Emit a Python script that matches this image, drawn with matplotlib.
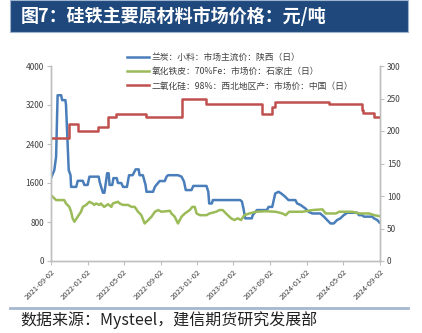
import matplotlib
matplotlib.use("Agg")
import matplotlib.pyplot as plt
import matplotlib.dates as mdates
import pandas as pd

plt.rcParams['font.family'] = ['Noto Sans CJK SC', 'DejaVu Sans']

title = "图7：硅铁主要原材料市场价格：元/吨"
source = "数据来源：Mysteel，建信期货研究发展部"

# 兰炭：小料：市场主流价：陕西（日）, 元/吨
semicoke_dates = [
    "2021-09-02", "2021-09-13", "2021-09-19", "2021-09-24", "2021-10-06", "2021-10-09",
    "2021-10-20", "2021-10-22", "2021-10-31", "2021-11-06", "2021-11-08", "2021-11-25",
    "2021-11-30", "2021-12-17", "2021-12-22", "2022-01-02", "2022-01-08", "2022-02-08",
    "2022-02-11", "2022-02-22", "2022-02-27", "2022-03-08", "2022-03-13", "2022-03-16",
    "2022-03-25", "2022-03-29", "2022-04-09", "2022-04-13", "2022-04-24", "2022-04-30",
    "2022-05-13", "2022-05-20", "2022-06-01", "2022-06-11", "2022-06-21", "2022-06-24",
    "2022-07-05", "2022-07-14", "2022-07-17", "2022-08-08", "2022-08-14", "2022-08-19",
    "2022-08-30", "2022-09-16", "2022-09-22", "2022-09-27", "2022-10-30", "2022-11-11",
    "2022-11-19", "2022-11-25", "2022-12-14", "2022-12-20", "2023-02-02", "2023-02-08",
    "2023-02-11", "2023-02-20", "2023-02-23", "2023-05-25", "2023-05-31", "2023-06-05",
    "2023-06-11", "2023-07-03", "2023-07-06", "2023-07-20", "2023-08-22", "2023-08-28",
    "2023-09-09", "2023-09-19", "2023-09-30", "2023-10-09", "2023-10-22", "2023-11-02",
    "2023-11-25", "2023-12-01", "2023-12-12", "2023-12-28", "2024-01-08", "2024-01-20",
    "2024-02-16", "2024-02-28", "2024-03-21", "2024-04-01", "2024-04-12", "2024-04-23",
    "2024-05-04", "2024-05-16", "2024-06-18", "2024-06-24", "2024-07-05", "2024-07-10",
    "2024-08-07", "2024-08-13", "2024-08-24", "2024-08-31",
]
semicoke_price = [
    1700, 1865, 2140, 3400, 3400, 3300,
    3300, 3200, 1865, 1760, 1520, 1520,
    1645, 1645, 1560, 1560, 1730, 1730,
    1625, 1400, 1400, 1800, 1800, 1560,
    1560, 1700, 1700, 1600, 1600, 1520,
    1520, 1760, 1760, 1880, 1880, 1760,
    1760, 1560, 1420, 1420, 1520, 1560,
    1640, 1640, 1730, 1760, 1760, 1730,
    1630, 1455, 1455, 1540, 1540, 1420,
    1180, 1180, 1250, 1250, 1220, 1080,
    875, 875, 940, 1045, 1045, 1110,
    1110, 1385, 1420, 1385, 1320, 1250,
    1250, 1180, 1150, 1080, 1010, 975,
    975, 910, 770, 770, 840, 875,
    940, 990, 990, 940, 940, 910,
    910, 875, 840, 790,
]

# 氧化铁皮：70%Fe：市场价：石家庄（日）, 元/吨
scale_dates = [
    "2021-09-02", "2021-09-13", "2021-09-19", "2021-10-16", "2021-10-22", "2021-11-02",
    "2021-11-08", "2021-11-13", "2021-11-19", "2021-11-30", "2021-12-11", "2021-12-17",
    "2021-12-28", "2022-01-02", "2022-01-08", "2022-01-19", "2022-01-24", "2022-01-30",
    "2022-02-10", "2022-02-15", "2022-02-26", "2022-03-11", "2022-03-22", "2022-03-27",
    "2022-04-13", "2022-04-19", "2022-04-30", "2022-05-17", "2022-05-28", "2022-06-08",
    "2022-06-19", "2022-06-30", "2022-07-11", "2022-07-23", "2022-08-03", "2022-08-14",
    "2022-08-25", "2022-09-05", "2022-10-03", "2022-10-08", "2022-10-19", "2022-10-30",
    "2022-11-11", "2022-11-22", "2022-12-08", "2022-12-17", "2022-12-25", "2022-12-31",
    "2023-01-11", "2023-02-02", "2023-02-12", "2023-03-06", "2023-03-17", "2023-03-28",
    "2023-04-08", "2023-04-25", "2023-05-06", "2023-05-17", "2023-05-28", "2023-06-08",
    "2023-06-25", "2023-07-17", "2023-08-19", "2023-09-21", "2023-10-13", "2023-10-24",
    "2023-11-04", "2023-12-19", "2024-01-21", "2024-02-23", "2024-03-05", "2024-04-08",
    "2024-04-19", "2024-06-02", "2024-06-25", "2024-07-28", "2024-08-14", "2024-08-31",
]
scale_price = [
    1350, 1285, 1250, 1250, 1180, 1110,
    1010, 875, 805, 910, 1010, 1110,
    1150, 1180, 1215, 1180, 1150, 1180,
    1150, 1180, 1110, 1165, 1110, 1180,
    1215, 1180, 1150, 1150, 1110, 1110,
    1010, 940, 770, 840, 910, 1010,
    1045, 1010, 1030, 975, 910, 770,
    910, 975, 1045, 1110, 1110, 975,
    940, 940, 975, 1010, 1045, 1045,
    975, 875, 840, 875, 840, 940,
    975, 1010, 1020, 1010, 975, 940,
    1010, 1010, 1045, 1060, 975, 975,
    1010, 1010, 975, 975, 940, 920,
]

# 二氧化硅：98%：西北地区产：市场价：中国（日）, 元/吨 (right axis)
silica_dates = [
    "2021-09-02", "2021-11-02", "2021-11-30", "2022-02-05", "2022-03-10", "2022-04-07",
    "2022-07-17", "2022-11-11", "2023-02-02", "2023-08-05", "2023-09-08", "2023-09-19",
    "2024-03-15", "2024-07-03", "2024-07-08", "2024-08-13", "2024-08-31",
]
silica_price = [
    190, 211, 200, 206, 221, 226,
    221, 250, 241.5, 225.5, 237, 245,
    241, 232, 227, 221, 221,
]

legend_labels = [
    "兰炭：小料：市场主流价：陕西（日）",
    "氧化铁皮：70%Fe：市场价：石家庄（日）",
    "二氧化硅：98%：西北地区产：市场价：中国（日）",
]
x_ticks = ["2021-09-02", "2022-01-02", "2022-05-02", "2022-09-02", "2023-01-02",
           "2023-05-02", "2023-09-02", "2024-01-02", "2024-05-02", "2024-09-02"]
left_ticks = [0, 800, 1600, 2400, 3200, 4000]
right_ticks = [0, 50, 100, 150, 200, 250, 300]

BLUE = "#4A7EBB"
GREEN = "#9BBB59"
RED = "#C0504D"
NAVY = "#1F497D"
GRAY = "#BFBFBF"

W, H = 422, 333
fig = plt.figure(figsize=(W / 100, H / 100), dpi=100)
fig.patch.set_facecolor("white")

# title banner
fig.patches.append(plt.Rectangle((10 / W, 1 - 32 / H), 398 / W, 32 / H,
                                 transform=fig.transFigure, facecolor=NAVY,
                                 edgecolor="#9DB3CF", linewidth=0.8))
fig.text(21 / W, 1 - 16 / H, title, color="white", fontsize=13,
         fontweight="bold", va="center", ha="left")

# bottom rule and source
fig.add_artist(plt.Line2D([10 / W, 408 / W], [1 - 308 / H, 1 - 308 / H],
                          transform=fig.transFigure, color="#A5B8D0", linewidth=2))
fig.text(20 / W, 1 - 320 / H, source, fontsize=11.5, style="italic",
         va="center", ha="left", color="#222222")

ax = fig.add_axes([51 / W, 1 - 261 / H, (380 - 51) / W, (261 - 66) / H])
ax2 = ax.twinx()

d1 = pd.to_datetime(semicoke_dates)
d2 = pd.to_datetime(scale_dates)
d3 = pd.to_datetime(silica_dates)

l1, = ax.plot(d1, semicoke_price, color=BLUE, linewidth=1.8)
l2, = ax.plot(d2, scale_price, color=GREEN, linewidth=1.8)
l3, = ax2.plot(d3, silica_price, color=RED, linewidth=1.8, drawstyle="steps-post")

xt = pd.to_datetime(x_ticks)
ax.set_xlim(xt[0], xt[-1])
ax.set_xticks(xt)
ax.xaxis.set_major_formatter(mdates.DateFormatter("%Y-%m-%d"))
for lab in ax.get_xticklabels():
    lab.set_rotation(45)
    lab.set_ha("right")
    lab.set_rotation_mode("anchor")
    lab.set_fontsize(5.5)
    lab.set_color("#404040")

ax.set_ylim(0, 4000)
ax.set_yticks(left_ticks)
ax2.set_ylim(0, 300)
ax2.set_yticks(right_ticks)

for a in (ax, ax2):
    a.spines["top"].set_visible(False)
    for side in ("left", "right", "bottom"):
        a.spines[side].set_color(GRAY)
        a.spines[side].set_linewidth(1.0)
    a.tick_params(axis="both", colors=GRAY, labelcolor="#404040", labelsize=6,
                  length=3, width=0.8, pad=2)
ax.tick_params(axis="x", labelsize=5.5)

leg = fig.legend([l1, l2, l3], legend_labels, loc="upper left",
                 bbox_to_anchor=(124 / W, 1 - 50 / H), frameon=False, fontsize=6.3,
                 handlelength=2.5, labelspacing=0.62, borderaxespad=0,
                 borderpad=0.3, handletextpad=0.4)
for t in leg.get_texts():
    t.set_color("#404040")

fig.savefig("out.png", dpi=100, facecolor="white")
